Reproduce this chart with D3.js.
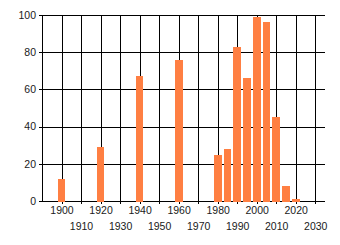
<!DOCTYPE html>
<html><head><meta charset="utf-8">
<script src="https://cdn.jsdelivr.net/npm/d3@7"></script>
<style>
html,body{margin:0;padding:0;background:#fff;}
svg{display:block;}
text{font-family:"Liberation Sans",Arial,sans-serif;font-size:10.5px;fill:#1a1a1a;}
</style></head>
<body><svg id="c" width="340" height="245"></svg>
<script>
const years = [1900, 1920, 1940, 1960, 1980, 1985, 1990, 1995, 2000, 2005, 2010, 2015, 2020];
const values = [12, 29, 67, 76, 25, 28, 83, 66, 99, 96, 45, 8, 1];
const xTicks = [1900, 1910, 1920, 1930, 1940, 1950, 1960, 1970, 1980, 1990, 2000, 2010, 2020, 2030];
const yTicks = [0, 20, 40, 60, 80, 100];

const svg = d3.select("#c");
const L = 42, R = 325, T = 15, B = 201;
const x = d3.scaleLinear().domain([1890, 2035]).range([L, R]);
const y = d3.scaleLinear().domain([0, 100]).range([B, T]);
const px = v => Math.round(v) + 0.5;

// horizontal gridlines + left ticks
svg.append("g").selectAll("line").data(yTicks).join("line")
  .attr("x1", L - 3).attr("x2", R)
  .attr("y1", d => px(y(d))).attr("y2", d => px(y(d)))
  .attr("stroke", "#000").attr("stroke-width", 1);

// vertical gridlines + bottom ticks
svg.append("g").selectAll("line").data(xTicks).join("line")
  .attr("x1", d => px(x(d))).attr("x2", d => px(x(d)))
  .attr("y1", T).attr("y2", B + 3)
  .attr("stroke", "#000").attr("stroke-width", 1);

// left axis line
svg.append("line").attr("x1", px(L)).attr("x2", px(L)).attr("y1", T).attr("y2", B + 1)
  .attr("stroke", "#000");

// bars
svg.append("g").selectAll("rect").data(years).join("rect")
  .attr("x", d => Math.round(x(d - 2)))
  .attr("width", d => Math.round(x(d + 2)) - Math.round(x(d - 2)))
  .attr("y", (d, i) => Math.round(y(values[i])))
  .attr("height", (d, i) => B + 1 - Math.round(y(values[i])))
  .attr("fill", "#ff7f42");

// y labels
svg.append("g").selectAll("text").data(yTicks).join("text")
  .attr("x", 36).attr("y", d => y(d) + 3.8)
  .attr("text-anchor", "end").text(d => d);

// x labels (staggered)
svg.append("g").selectAll("text").data(xTicks).join("text")
  .attr("x", d => x(d) + 0.5)
  .attr("y", (d, i) => i % 2 === 0 ? 213.8 : 229.8)
  .attr("text-anchor", "middle").text(d => d);
</script></body></html>
